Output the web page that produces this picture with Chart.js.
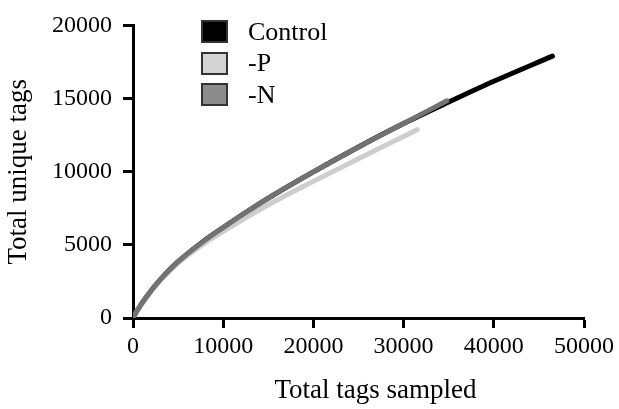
<!DOCTYPE html>
<html><head><meta charset="UTF-8">
<title>Total unique tags vs total tags sampled</title>
<script src="https://cdn.jsdelivr.net/npm/chart.js@4"></script>
<style>
body{margin:0;background:#fff}
#wrap{position:relative;width:619px;height:409px}
#legend{position:absolute;left:201px;top:20px;font:26px "Liberation Serif",serif;color:#000}
.item{display:flex;align-items:center;height:23px;margin-bottom:8.5px}
.box{box-sizing:border-box;width:27px;height:23px;border:2px solid #333;margin-right:20px}
</style>
</head><body>
<div id="wrap">
  <canvas id="c" width="619" height="409"></canvas>
  <div id="legend"></div>
</div>
<script>
// values
const xTicks = [0, 10000, 20000, 30000, 40000, 50000];
const yTicks = [0, 5000, 10000, 15000, 20000];

const controlX = [0, 500, 1500, 3000, 5000, 7500, 10000, 15000, 20000, 25000, 30000, 35000, 40000, 46500];
const controlY = [0, 550, 1450, 2600, 3850, 5100, 6180, 8190, 9990, 11690, 13290, 14760, 16180, 17900];

const minusPX = [0, 500, 1500, 3000, 5000, 7500, 10000, 15000, 20000, 25000, 30000, 31500];
const minusPY = [0, 545, 1425, 2550, 3750, 4920, 5920, 7740, 9340, 10890, 12410, 12870];

const minusNX = [0, 500, 1500, 3000, 5000, 7500, 10000, 15000, 20000, 25000, 30000, 34800];
const minusNY = [0, 550, 1450, 2600, 3850, 5100, 6180, 8190, 9990, 11690, 13290, 14850];

const FONT = '"Liberation Serif", "Times New Roman", serif';
const pts = (xs, ys) => xs.map((x, i) => ({x, y: ys[i]}));

const series = [
  {label: 'Control', xs: controlX, ys: controlY, line: '#000000', box: '#000000', order: 2},
  {label: '-P', xs: minusPX, ys: minusPY, line: '#cdcdcd', box: '#d4d4d4', order: 1},
  {label: '-N', xs: minusNX, ys: minusNY, line: '#727272', box: '#8c8c8c', order: 0}
];

// legend in the top left of the plot
const lg = document.getElementById('legend');
series.forEach(s => {
  const it = document.createElement('div');
  it.className = 'item';
  it.innerHTML = `<span class="box" style="background:${s.box}"></span><span>${s.label}</span>`;
  lg.appendChild(it);
});

// x title sits a bit right of the axis centre in the original
const xTitle = {
  id: 'xTitle',
  afterDraw(chart) {
    const {ctx, chartArea: a} = chart;
    ctx.save();
    ctx.font = '27px ' + FONT;
    ctx.fillStyle = '#000';
    ctx.textAlign = 'center';
    ctx.textBaseline = 'alphabetic';
    ctx.fillText('Total tags sampled', (a.left + a.right) / 2 + 17, a.bottom + 80);
    ctx.restore();
  }
};

new Chart(document.getElementById('c'), {
  type: 'line',
  data: {
    datasets: series.map(s => ({
      label: s.label,
      data: pts(s.xs, s.ys),
      borderColor: s.line,
      borderWidth: 5,
      borderCapStyle: 'round',
      pointRadius: 0,
      cubicInterpolationMode: 'monotone',
      fill: false,
      order: s.order
    }))
  },
  plugins: [xTitle],
  options: {
    responsive: false,
    animation: false,
    devicePixelRatio: 1,
    layout: {padding: {top: 17, right: 35, bottom: 0, left: 0}},
    plugins: {legend: {display: false}, tooltip: {enabled: false}},
    scales: {
      x: {
        type: 'linear', min: 0, max: 50000,
        afterBuildTicks: s => { s.ticks = xTicks.map(v => ({value: v})); },
        afterFit: s => { s.height = 91; },
        ticks: {color: '#000', padding: 4, autoSkip: false, maxRotation: 0,
                font: {family: FONT, size: 24}, callback: v => String(v)},
        grid: {drawOnChartArea: false, tickLength: 10, tickWidth: 3, tickColor: '#000'},
        border: {width: 3, color: '#000'}
      },
      y: {
        type: 'linear', min: 0, max: 20000,
        afterBuildTicks: s => { s.ticks = yTicks.map(v => ({value: v})); },
        afterFit: s => { s.width = 133; },
        ticks: {color: '#000', padding: 11, font: {family: FONT, size: 24},
                callback: v => String(v)},
        grid: {drawOnChartArea: false, tickLength: 10, tickWidth: 3, tickColor: '#000'},
        border: {width: 3, color: '#000'},
        title: {display: true, text: 'Total unique tags', color: '#000',
                font: {family: FONT, size: 27}, padding: {top: 3, bottom: 0}}
      }
    }
  }
});
</script>
</body></html>
